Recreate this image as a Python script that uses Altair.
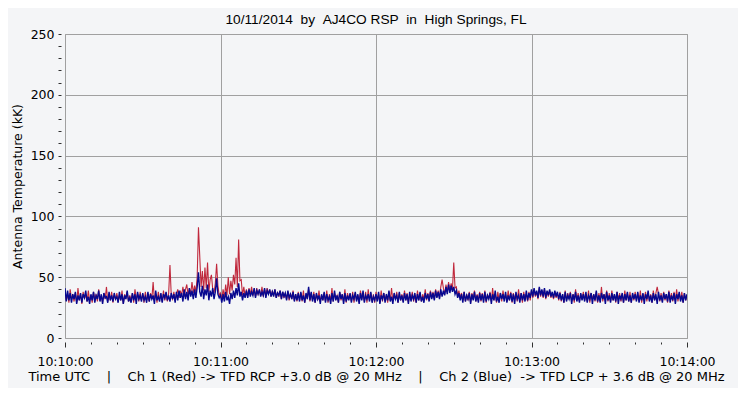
import altair as alt
import pandas as pd

# ---- data (0.5 s samples, 10:10:00 -> 10:14:00 UTC) ----
STEP_S = 0.5
X_TICK_LABELS = ["10:10:00", "10:11:00", "10:12:00", "10:13:00", "10:14:00"]

red = [
    38, 31, 36, 29, 40, 32, 35, 30, 37, 29, 41, 31, 36, 28, 38, 33, 35, 30, 39, 31,
    35, 29, 38, 32, 36, 30, 40, 31, 35, 29, 37, 32, 42, 30, 36, 31, 38, 29, 35, 32,
    37, 30, 35, 31, 39, 28, 36, 33, 38, 30, 35, 31, 37, 29, 40, 32, 36, 30, 38, 31,
    36, 29, 38, 31, 35, 30, 37, 32, 46, 31, 36, 29, 38, 32, 35, 30, 39, 31, 36, 30,
    37, 60, 35, 32, 38, 31, 36, 40, 33, 39, 35, 42, 34, 40, 44, 35, 41, 36, 46, 37,
    43, 38, 50, 91, 67, 42, 55, 39, 58, 41, 62, 38, 48, 52, 40, 37, 45, 61, 43, 35,
    37, 32, 40, 33, 44, 35, 50, 36, 47, 39, 52, 44, 66, 42, 81, 47, 48, 35, 42, 34,
    40, 34, 41, 36, 42, 35, 40, 34, 41, 36, 39, 35, 42, 34, 40, 35, 41, 37, 39, 34,
    39, 35, 40, 33, 38, 34, 39, 32, 38, 33, 37, 32, 38, 31, 37, 32, 39, 31, 36, 30,
    38, 31, 37, 30, 39, 29, 36, 32, 40, 30, 37, 31, 38, 29, 36, 31, 39, 30, 35, 31,
    37, 30, 39, 29, 36, 31, 41, 30, 37, 32, 35, 29, 38, 31, 36, 30, 40, 29, 37, 32,
    36, 30, 38, 29, 37, 31, 35, 29, 39, 32, 36, 30, 38, 29, 40, 31, 37, 30, 36, 29,
    38, 31, 36, 29, 39, 30, 37, 32, 35, 29, 38, 31, 41, 30, 36, 32, 38, 29, 37, 31,
    36, 30, 39, 31, 37, 29, 36, 32, 38, 30, 35, 29, 39, 31, 37, 30, 36, 32, 40, 31,
    37, 31, 39, 33, 38, 32, 40, 34, 39, 33, 42, 48, 41, 36, 44, 38, 46, 39, 45, 40,
    62, 41, 42, 35, 39, 33, 37, 31, 38, 30, 36, 31, 38, 29, 37, 32, 39, 30, 36, 31,
    38, 30, 37, 31, 39, 29, 36, 32, 38, 30, 41, 31, 36, 29, 38, 31, 37, 30, 39, 32,
    36, 30, 39, 31, 38, 29, 37, 32, 36, 30, 40, 31, 37, 29, 38, 32, 36, 30, 38, 31,
    39, 33, 40, 34, 38, 32, 41, 34, 39, 33, 40, 32, 38, 34, 39, 33, 37, 32, 38, 33,
    37, 31, 38, 30, 36, 29, 39, 31, 37, 32, 38, 30, 36, 29, 40, 31, 37, 30, 36, 32,
    38, 31, 36, 30, 39, 29, 37, 32, 36, 30, 38, 29, 37, 31, 42, 30, 36, 32, 39, 30,
    37, 30, 39, 31, 36, 29, 38, 32, 37, 30, 36, 29, 39, 31, 37, 30, 38, 29, 36, 31,
    38, 31, 37, 30, 39, 29, 36, 32, 38, 30, 37, 31, 36, 29, 39, 31, 37, 42, 36, 30,
    37, 30, 38, 31, 36, 29, 39, 32, 37, 30, 38, 31, 40, 30, 36, 32, 38, 29, 37, 31,
    35,
]

blue = [
    41, 30, 39, 31, 37, 29, 36, 32, 38, 28, 35, 31, 37, 29, 36, 33, 39, 30, 34, 28,
    36, 31, 38, 29, 35, 32, 39, 30, 36, 28, 37, 33, 34, 29, 38, 31, 35, 30, 37, 32,
    34, 29, 38, 31, 36, 28, 35, 32, 39, 30, 33, 29, 37, 31, 36, 28, 38, 32, 35, 30,
    37, 31, 34, 29, 38, 30, 36, 32, 35, 28, 39, 31, 34, 30, 37, 29, 36, 33, 38, 31,
    35, 30, 37, 32, 36, 29, 38, 31, 39, 33, 37, 30, 40, 32, 38, 31, 41, 34, 39, 32,
    40, 33, 42, 54, 38, 34, 43, 32, 40, 35, 44, 31, 39, 34, 41, 32, 38, 49, 36, 33,
    35, 29, 36, 30, 38, 31, 34, 28, 37, 32, 39, 33, 41, 35, 45, 34, 38, 31, 37, 33,
    39, 33, 40, 34, 38, 35, 41, 33, 39, 36, 40, 34, 38, 35, 41, 33, 39, 36, 40, 34,
    38, 34, 40, 33, 37, 35, 39, 32, 38, 34, 37, 31, 39, 33, 36, 32, 38, 30, 36, 31,
    37, 30, 38, 31, 35, 29, 37, 32, 42, 31, 38, 30, 36, 29, 37, 32, 35, 28, 36, 31,
    38, 29, 36, 31, 34, 28, 37, 30, 39, 31, 35, 29, 38, 32, 36, 28, 37, 30, 35, 31,
    37, 29, 35, 32, 38, 30, 36, 28, 37, 31, 39, 29, 35, 32, 36, 30, 38, 29, 34, 31,
    36, 30, 38, 28, 35, 32, 37, 29, 36, 31, 39, 30, 34, 28, 37, 32, 35, 29, 38, 31,
    35, 29, 37, 31, 36, 28, 38, 30, 35, 32, 37, 29, 36, 31, 38, 30, 34, 29, 37, 32,
    36, 30, 38, 32, 37, 31, 39, 33, 38, 32, 40, 34, 39, 35, 42, 36, 44, 37, 43, 38,
    42, 36, 39, 33, 37, 31, 36, 29, 38, 30, 35, 32, 37, 28, 36, 31, 38, 30, 35, 29,
    37, 31, 36, 29, 38, 30, 35, 32, 37, 28, 36, 31, 39, 30, 34, 29, 37, 32, 36, 30,
    38, 29, 35, 31, 37, 30, 36, 28, 38, 32, 35, 29, 37, 31, 36, 30, 39, 31, 37, 33,
    40, 34, 41, 35, 39, 33, 42, 35, 40, 34, 41, 33, 39, 35, 40, 34, 38, 33, 39, 34,
    38, 32, 37, 31, 36, 29, 38, 30, 35, 32, 37, 28, 36, 31, 38, 30, 35, 29, 37, 31,
    36, 30, 38, 29, 35, 32, 37, 28, 36, 31, 39, 30, 35, 29, 37, 32, 36, 28, 38, 31,
    35, 29, 37, 31, 36, 30, 38, 28, 35, 32, 37, 29, 36, 31, 38, 30, 35, 29, 37, 32,
    36, 30, 38, 29, 35, 31, 37, 28, 36, 32, 39, 30, 35, 29, 37, 31, 36, 28, 38, 31,
    35, 29, 37, 32, 36, 30, 38, 29, 35, 31, 37, 28, 36, 32, 38, 30, 35, 29, 37, 31,
    36,
]

NB = "\u00a0"
TITLE = f"10/11/2014{NB*2}by{NB*2}AJ4CO RSP{NB*2}in{NB*2}High Springs, FL"
X_TITLE = (f"Time UTC{NB*4}|{NB*4}Ch 1 (Red) -> TFD RCP +3.0 dB @ 20 MHz"
           f"{NB*4}|{NB*4}Ch 2 (Blue){NB*2}-> TFD LCP + 3.6 dB @ 20 MHz")
Y_TITLE = "Antenna Temperature (kK)"

n = len(red)
df = pd.DataFrame({
    "t": [i * STEP_S for i in range(n)] * 2,
    "v": red + blue,
    "ch": ["red"] * n + ["blue"] * len(blue),
})

GRID = "#A0A0A0"
BG = "#F4F5F7"
LABEL_FONT = "DejaVu Sans"

label_arr = "[" + ",".join(f"'{s}'" for s in X_TICK_LABELS) + "]"

x_enc = alt.X(
    "t:Q",
    scale=alt.Scale(domain=[0, 240], nice=False, zero=False),
    axis=alt.Axis(
        values=list(range(0, 241, 10)),
        labelExpr=f"datum.value % 60 === 0 ? {label_arr}[datum.value / 60] : ''",
        title=X_TITLE,
        titleFont=LABEL_FONT, titleFontSize=13, titleFontWeight="normal",
        titleColor="black", titlePadding=3,
        labelFont=LABEL_FONT, labelFontSize=12.5, labelColor="black",
        labelPadding=8, labelOverlap=False, labelFlush=False,
        domain=False, offset=4,
        tickColor="#303030", tickWidth=1,
        tickSize={"condition": {"test": "datum.value % 60 === 0", "value": 5}, "value": 2},
        grid=True, gridColor=GRID, gridWidth=1,
        gridOpacity={"condition": {"test": "datum.value % 60 === 0", "value": 1}, "value": 0},
    ),
)

y_enc = alt.Y(
    "v:Q",
    scale=alt.Scale(domain=[0, 250], nice=False, zero=True),
    axis=alt.Axis(
        values=list(range(0, 251, 10)),
        labelExpr="datum.value % 50 === 0 ? datum.label : ''",
        title=Y_TITLE,
        titleFont=LABEL_FONT, titleFontSize=12.5, titleFontWeight="normal",
        titleColor="black", titlePadding=6,
        labelFont=LABEL_FONT, labelFontSize=12.5, labelColor="black",
        labelPadding=4, labelOverlap=False, labelFlush=False,
        domain=False, offset=4,
        tickColor="#303030", tickWidth=1, tickSize=3,
        grid=True, gridColor=GRID, gridWidth=1,
        gridOpacity={"condition": {"test": "datum.value % 50 === 0", "value": 1}, "value": 0},
    ),
)

base = alt.Chart(df)

red_line = base.transform_filter("datum.ch === 'red'").mark_line(
    color="#C0283C", strokeWidth=1.1, clip=True
).encode(x=x_enc, y=y_enc)

blue_line = base.transform_filter("datum.ch === 'blue'").mark_line(
    color="#08088F", strokeWidth=1.4, clip=True
).encode(x=x_enc, y=y_enc)

chart = alt.layer(red_line, blue_line).properties(
    width=622,
    height=304,
    autosize=alt.AutoSizeParams(type="none"),
    padding={"left": 57, "top": 26, "right": 51, "bottom": 50},
    background=BG,
    title=alt.TitleParams(
        text=TITLE, font="Liberation Sans", fontSize=13.7, fontWeight="normal",
        color="black", anchor="middle", frame="group", offset=1,
    ),
).configure_view(stroke=GRID, strokeWidth=1, fill=BG)

chart.save("out.html", embed_options={"renderer": "svg", "actions": False})
